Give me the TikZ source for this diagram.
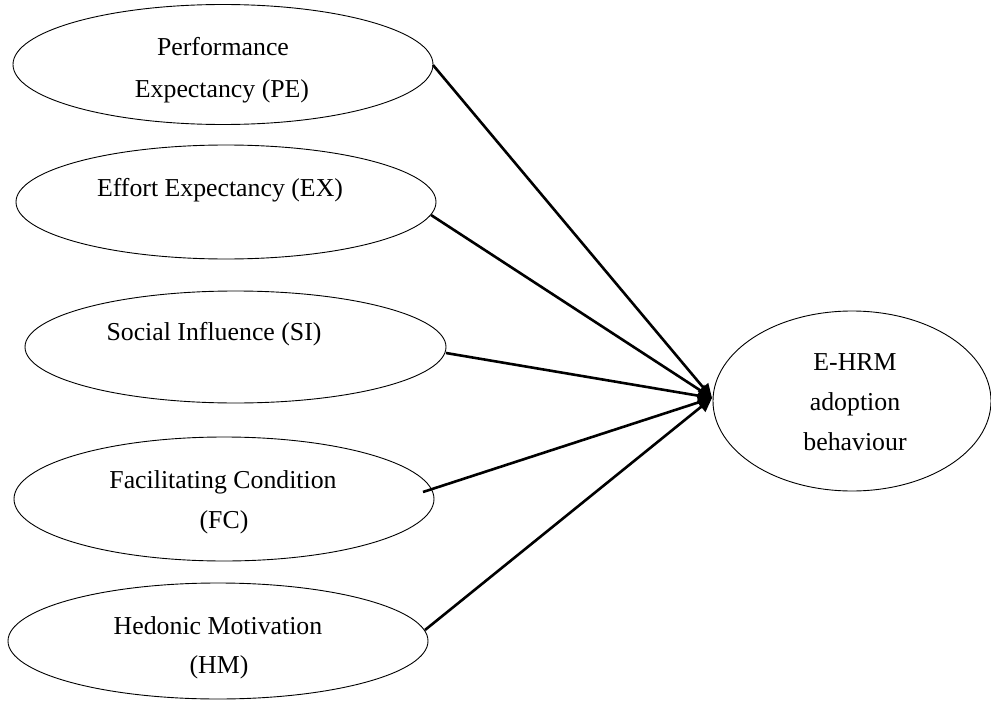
\documentclass[tikz,border=0pt]{standalone}
\usepackage{fontspec}
\setmainfont{Liberation Serif}
\usetikzlibrary{shapes.geometric,arrows.meta}
\begin{document}
\begin{tikzpicture}[x=1pt,y=-1pt,
  oval/.style={draw=black,line width=0.9pt,ellipse,inner sep=0pt},
  lbl/.style={anchor=base,inner sep=0pt,font=\fontsize{25.8}{30}\selectfont},
  link/.style={line width=2.6pt,-{Triangle[length=14pt,width=13pt]}}]
\useasboundingbox (0,0) rectangle (991,701);
% ovals
\node[oval,minimum width=420pt,minimum height=120pt] (pe) at (223,64.5) {};
\node[oval,minimum width=420pt,minimum height=114pt] (ex) at (226,202) {};
\node[oval,minimum width=421pt,minimum height=112pt] (si) at (235.5,347) {};
\node[oval,minimum width=420pt,minimum height=124pt] (fc) at (224,499) {};
\node[oval,minimum width=420pt,minimum height=116pt] (hm) at (218,641) {};
\node[oval,minimum width=278pt,minimum height=180pt] (eh) at (852,401) {};
% labels
\node[lbl] (pe1) at (223,56) {Performance};
\node[lbl] (pe2) at (222,97) {Expectancy (PE)};
\node[lbl] (ex1) at (220,196) {Effort Expectancy (EX)};
\node[lbl] (si1) at (214,340) {Social Influence (SI)};
\node[lbl] (fc1) at (223,488) {Facilitating Condition};
\node[lbl] (fc2) at (224,528) {(FC)};
\node[lbl] (hm1) at (218,634) {Hedonic Motivation};
\node[lbl] (hm2) at (219,673) {(HM)};
\node[lbl] (eh1) at (855,370) {E-HRM};
\node[lbl] (eh2) at (855,410) {adoption};
\node[lbl] (eh3) at (855,450) {behaviour};
% connector start points
\coordinate (pes) at (433,65);
\coordinate (exs) at (431,215);
\coordinate (sis) at (446,353);
\coordinate (fcs) at (423,492);
\coordinate (hms) at (425,630);
\coordinate (tip) at (712,398);
% connectors
\draw[link] (pes) -- (tip);
\draw[link] (exs) -- (tip);
\draw[link] (sis) -- (tip);
\draw[link] (fcs) -- (tip);
\draw[link] (hms) -- (tip);
\end{tikzpicture}
\end{document}
